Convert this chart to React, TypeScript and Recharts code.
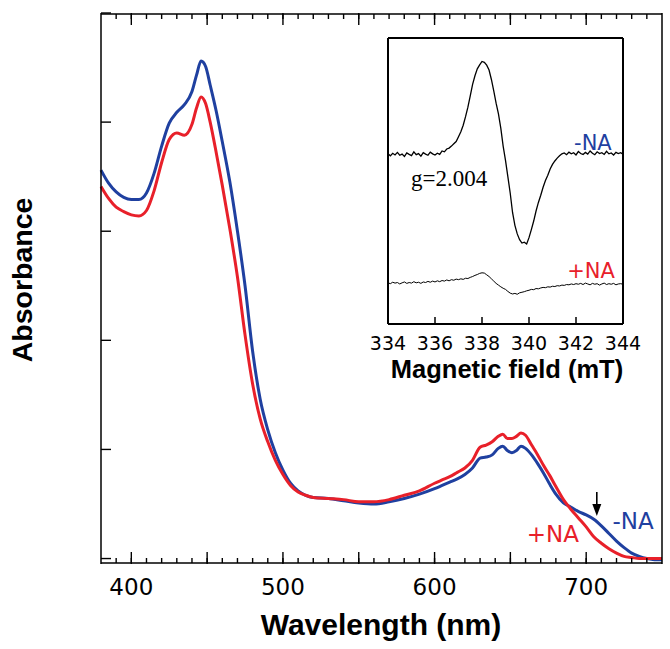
import React from 'react';
import { LineChart, Line, XAxis, YAxis, ReferenceLine, ReferenceDot } from 'recharts';

// UV-vis absorption (nm)
const wavelengths = [
  380, 385, 390, 395, 400, 405, 410, 415, 420, 425, 430, 435, 440, 443, 446, 449, 452, 456, 460, 465,
  470, 475, 480, 485, 490, 495, 500, 505, 510, 515, 520, 530, 540, 550, 560, 570, 580, 590, 600, 605,
  610, 615, 620, 625, 630, 634, 638, 642, 645, 648, 651, 654, 657, 660, 664, 668, 672, 676, 680, 685,
  690, 695, 700, 705, 710, 715, 720, 725, 730, 735, 740, 745, 750,
];
const absMinusNA = [
  0.356, 0.344, 0.336, 0.331, 0.329, 0.329, 0.335, 0.353, 0.378, 0.399, 0.409, 0.416, 0.428, 0.443, 0.456, 0.451, 0.434, 0.410, 0.382, 0.345,
  0.300, 0.250, 0.190, 0.146, 0.118, 0.097, 0.081, 0.069, 0.062, 0.058, 0.056, 0.055, 0.053, 0.051, 0.050, 0.052, 0.055, 0.059, 0.064, 0.067,
  0.070, 0.073, 0.077, 0.083, 0.092, 0.093, 0.095, 0.101, 0.103, 0.099, 0.097, 0.099, 0.103, 0.101, 0.095, 0.087, 0.078, 0.068, 0.059, 0.051,
  0.047, 0.043, 0.040, 0.036, 0.030, 0.023, 0.016, 0.010, 0.005, 0.002, 0.000, -0.001, -0.001,
];
const absPlusNA = [
  0.341, 0.330, 0.322, 0.318, 0.315, 0.314, 0.319, 0.337, 0.363, 0.384, 0.390, 0.388, 0.398, 0.413, 0.423, 0.417, 0.400, 0.372, 0.342, 0.302,
  0.258, 0.205, 0.160, 0.128, 0.107, 0.090, 0.077, 0.067, 0.061, 0.058, 0.056, 0.055, 0.054, 0.052, 0.052, 0.054, 0.058, 0.062, 0.069, 0.072,
  0.075, 0.079, 0.083, 0.090, 0.102, 0.104, 0.107, 0.112, 0.114, 0.110, 0.110, 0.112, 0.115, 0.113, 0.104, 0.095, 0.085, 0.076, 0.066, 0.054,
  0.045, 0.037, 0.029, 0.020, 0.014, 0.009, 0.005, 0.002, 0.001, 0.000, 0.000, 0.000, 0.000,
];
const wlTicks = [
  390, 400, 410, 420, 430, 440, 450, 460, 470, 480, 490, 500, 510, 520, 530, 540, 550, 560,
  570, 580, 590, 600, 610, 620, 630, 640, 650, 660, 670, 680, 690, 700, 710, 720, 730, 740,
];
const wlMajorTicks = [400, 450, 500, 550, 600, 650, 700];
const wlLabels = [400, 500, 600, 700];
const absTicks = [0, 0.1, 0.2, 0.3, 0.4, 0.5];

// EPR traces (inset), 334.0 .. 344.0 mT every 0.1 mT, arbitrary units
const eprMinusNA = [
  5.95, 5.88, 5.97, 5.91, 6.00, 5.90, 5.94, 5.86, 5.98, 5.93, 5.89, 6.02, 5.92, 5.96, 5.87, 5.99, 5.94, 5.90, 6.01, 5.95,
  5.91, 5.97, 5.93, 6.05, 6.02, 6.12, 6.15, 6.22, 6.30, 6.38, 6.55, 6.72, 6.95, 7.25, 7.58, 7.98, 8.38, 8.68, 8.92, 9.06,
  9.18, 9.15, 9.05, 8.88, 8.55, 8.15, 7.72, 7.35, 6.85, 6.22, 5.72, 5.15, 4.58, 3.90, 3.45, 3.15, 2.95, 2.83, 2.86, 2.80,
  3.02, 3.30, 3.60, 3.95, 4.25, 4.50, 4.78, 5.02, 5.20, 5.42, 5.58, 5.70, 5.80, 5.88, 5.95, 5.98, 5.92, 6.01, 5.95, 5.99,
  5.91, 6.03, 5.96, 5.93, 6.00, 5.94, 6.05, 5.97, 5.92, 6.02, 5.96, 5.99, 5.93, 6.04, 5.95, 5.98, 5.91, 6.00, 5.96, 5.99,
  5.94,
];
const eprPlusNA = [
  1.44, 1.41, 1.46, 1.43, 1.45, 1.40, 1.44, 1.47, 1.42, 1.45, 1.43, 1.48, 1.44, 1.46, 1.42, 1.47, 1.45, 1.49, 1.46, 1.50,
  1.47, 1.51, 1.48, 1.52, 1.50, 1.54, 1.51, 1.55, 1.53, 1.57, 1.55, 1.58, 1.56, 1.60, 1.59, 1.63, 1.66, 1.70, 1.73, 1.77,
  1.79, 1.78, 1.72, 1.66, 1.58, 1.50, 1.42, 1.36, 1.30, 1.25, 1.21, 1.14, 1.08, 1.05, 1.07, 1.04, 1.09, 1.11, 1.13, 1.16,
  1.18, 1.21, 1.20, 1.24, 1.23, 1.26, 1.28, 1.27, 1.30, 1.29, 1.32, 1.31, 1.34, 1.33, 1.36, 1.35, 1.38, 1.37, 1.40, 1.38,
  1.41, 1.39, 1.42, 1.38, 1.43, 1.40, 1.37, 1.42, 1.39, 1.41, 1.36, 1.40, 1.43, 1.38, 1.41, 1.39, 1.42, 1.37, 1.40, 1.41,
  1.39,
];
const fieldTicks = [334, 336, 338, 340, 342, 344];

const spectrum = wavelengths.map((wl, i) => ({ wl, minus: absMinusNA[i], plus: absPlusNA[i] }));
const epr = eprMinusNA.map((v, i) => ({ field: Math.round((334 + i * 0.1) * 10) / 10, minus: v, plus: eprPlusNA[i] }));

const BLUE = '#1f40a0';
const RED = '#e8202a';
const REG = '"DejaVu Sans", sans-serif';
const BOLD = '"Liberation Sans", Arial, sans-serif';
const frame = { stroke: '#000', strokeWidth: 1.5 };
const insetFrame = { stroke: '#000', strokeWidth: 2 };
const tickMark = { stroke: '#000', strokeWidth: 1.4 };

const noLabel = () => <g />;

const bottomLabel = (p: any) => {
  const v = p.payload.value;
  if (!wlLabels.includes(v)) return <g />;
  return <text x={p.x} y={p.y + 31} textAnchor="middle" fontFamily={REG} fontSize={23} fill="#000">{v}</text>;
};

const leftLabel = (p: any) => {
  const v = p.payload.value;
  return (
    <text x={p.x - 9} y={p.y + 8} textAnchor="end" fontFamily={REG} fontSize={23} fill="#000">
      {v === 0 ? '0' : v.toFixed(1)}
    </text>
  );
};

const insetLabel = (p: any) => (
  <text x={p.x} y={p.y + 26} textAnchor="middle" fontFamily={REG} fontSize={19} fill="#000">{p.payload.value}</text>
);

const Arrow = (props: any) => {
  const { x1, y1, y2 } = props;
  const top = Math.min(y1, y2);
  const tip = Math.max(y1, y2);
  return (
    <g>
      <line x1={x1} x2={x1} y1={top} y2={tip - 8} stroke="#000" strokeWidth={1.6} />
      <polygon points={`${x1 - 4.5},${tip - 12} ${x1 + 4.5},${tip - 12} ${x1},${tip}`} fill="#000" />
    </g>
  );
};

const tag = (text: string, color: string, size: number, anchor = 'middle', family = REG) => (p: any) => (
  <text x={p.cx} y={p.cy} textAnchor={anchor} fontFamily={family} fontSize={size} fill={color}>{text}</text>
);

export default function App() {
  return (
    <div style={{ position: 'absolute', left: 0, top: 0, width: 670, height: 649, background: '#fff' }}>
      <LineChart width={670} height={649} data={spectrum} margin={{ top: 13, right: 8, bottom: 84, left: 100 }}>
        {/* mirrored axes carry the inward tick marks */}
        <XAxis xAxisId="bm" dataKey="wl" type="number" domain={[380, 750]} ticks={wlTicks} interval={0}
          mirror height={1} tickSize={5} tickMargin={0} tickLine={tickMark} axisLine={frame} tick={noLabel} />
        <XAxis xAxisId="bM" dataKey="wl" type="number" domain={[380, 750]} ticks={wlMajorTicks} interval={0}
          mirror height={1} tickSize={12} tickMargin={0} tickLine={tickMark} axisLine={false} tick={noLabel} />
        <XAxis xAxisId="b" dataKey="wl" type="number" domain={[380, 750]} ticks={wlTicks} interval={0}
          height={1} tickSize={0} tickMargin={0} tickLine={false} axisLine={false} tick={bottomLabel} />
        <XAxis xAxisId="tm" orientation="top" dataKey="wl" type="number" domain={[380, 750]} ticks={wlTicks} interval={0}
          mirror height={1} tickSize={5} tickMargin={0} tickLine={tickMark} axisLine={frame} tick={noLabel} />
        <XAxis xAxisId="tM" orientation="top" dataKey="wl" type="number" domain={[380, 750]} ticks={wlMajorTicks} interval={0}
          mirror height={1} tickSize={12} tickMargin={0} tickLine={tickMark} axisLine={false} tick={noLabel} />
        <YAxis yAxisId="lm" type="number" domain={[-0.005, 0.5]} ticks={absTicks} interval={0}
          mirror width={1} tickSize={10} tickMargin={0} tickLine={tickMark} axisLine={frame} tick={noLabel} />
        <YAxis yAxisId="l" type="number" domain={[-0.005, 0.5]} ticks={absTicks} interval={0}
          width={1} tickSize={0} tickMargin={0} tickLine={false} axisLine={false} tick={leftLabel} />
        <YAxis yAxisId="rm" orientation="right" type="number" domain={[-0.005, 0.5]} ticks={absTicks} interval={0}
          mirror width={1} tickSize={11} tickMargin={0} tickLine={tickMark} axisLine={frame} tick={noLabel} />
        <Line xAxisId="bm" yAxisId="lm" type="monotone" dataKey="minus" stroke={BLUE} strokeWidth={3} dot={false} isAnimationActive={false} />
        <Line xAxisId="bm" yAxisId="lm" type="monotone" dataKey="plus" stroke={RED} strokeWidth={3} dot={false} isAnimationActive={false} />
        <ReferenceLine xAxisId="bm" yAxisId="lm" segment={[{ x: 707, y: 0.061 }, { x: 707, y: 0.039 }]} shape={<Arrow />} />
        <ReferenceDot xAxisId="bm" yAxisId="lm" x={731} y={0.027} r={0} shape={tag('-NA', BLUE, 23)} />
        <ReferenceDot xAxisId="bm" yAxisId="lm" x={678} y={0.015} r={0} shape={tag('+NA', RED, 23)} />
      </LineChart>

      <div style={{ position: 'absolute', left: 360, top: 30 }}>
        <LineChart width={290} height={345} data={epr} margin={{ top: 7, right: 26, bottom: 50, left: 27 }}>
          <XAxis xAxisId="ib" dataKey="field" type="number" domain={[334, 344]} ticks={fieldTicks} interval={0}
            mirror height={1} tickSize={7} tickMargin={0} tickLine={{ stroke: '#000', strokeWidth: 1.5 }}
            axisLine={insetFrame} tick={noLabel} />
          <XAxis xAxisId="b" dataKey="field" type="number" domain={[334, 344]} ticks={fieldTicks} interval={0}
            height={1} tickSize={0} tickMargin={0} tickLine={false} axisLine={false} tick={insetLabel} />
          <XAxis xAxisId="t" orientation="top" dataKey="field" type="number" domain={[334, 344]} height={1}
            tick={false} tickLine={false} axisLine={insetFrame} />
          <YAxis yAxisId="l" type="number" domain={[0, 10]} width={1} tick={false} tickLine={false} axisLine={insetFrame} />
          <YAxis yAxisId="r" orientation="right" type="number" domain={[0, 10]} width={1} tick={false} tickLine={false}
            axisLine={insetFrame} />
          <Line xAxisId="ib" yAxisId="l" type="linear" dataKey="minus" stroke="#000" strokeWidth={1.3} dot={false} isAnimationActive={false} />
          <Line xAxisId="ib" yAxisId="l" type="linear" dataKey="plus" stroke="#000" strokeWidth={1} dot={false} isAnimationActive={false} />
          <ReferenceDot xAxisId="ib" yAxisId="l" x={342.72} y={6.1} r={0} shape={tag('-NA', BLUE, 21)} />
          <ReferenceDot xAxisId="ib" yAxisId="l" x={342.64} y={1.6} r={0} shape={tag('+NA', RED, 21)} />
          <ReferenceDot xAxisId="ib" yAxisId="l" x={334.98} y={4.84} r={0}
            shape={tag('g=2.004', '#000', 23, 'start', '"Liberation Serif", "Times New Roman", serif')} />
        </LineChart>
      </div>

      <svg width={670} height={649} style={{ position: 'absolute', left: 0, top: 0, pointerEvents: 'none' }}>
        <text x={381} y={635} textAnchor="middle" fontFamily={BOLD} fontWeight="bold" fontSize={30} fill="#000">Wavelength (nm)</text>
        <text x={32} y={280} transform="rotate(-90, 32, 280)" textAnchor="middle" fontFamily={BOLD} fontWeight="bold" fontSize={28.5} fill="#000">Absorbance</text>
        <text x={507} y={378} textAnchor="middle" fontFamily={BOLD} fontWeight="bold" fontSize={25.5} fill="#000">Magnetic field (mT)</text>
      </svg>
    </div>
  );
}
